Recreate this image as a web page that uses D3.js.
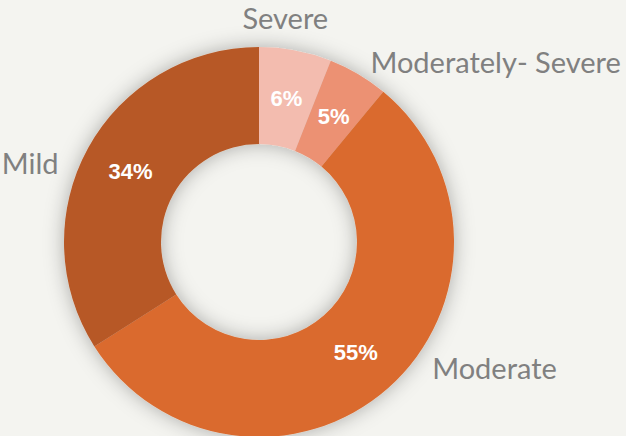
<!DOCTYPE html>
<html>
<head>
<meta charset="utf-8">
<script src="https://cdn.jsdelivr.net/npm/d3@7"></script>
<style>
  html, body { margin: 0; padding: 0; background: #f4f4f0; }
  svg { display: block; }
</style>
</head>
<body>
<svg width="626" height="436"></svg>
<script>
// severity share, clockwise from 12 o'clock
var categories = ['Severe', 'Moderately- Severe', 'Moderate', 'Mild'];
var values = [6, 5, 55, 34];
var colors = ['#f3bcaf', '#ec9173', '#da6a2e', '#b75826'];

// label nudges (px) for the outer category names
var labelNudge = [[-14, -12], [2, 6], [31, -34], [-12, 25]];

var width = 626, height = 436;
var cx = 259, cy = 242;
var outerR = 195, innerR = 98;

var svg = d3.select('svg');

var defs = svg.append('defs');
var f = defs.append('filter')
  .attr('id', 'shadow')
  .attr('x', '-30%').attr('y', '-30%')
  .attr('width', '160%').attr('height', '160%');
f.append('feDropShadow')
  .attr('dx', 0).attr('dy', 0)
  .attr('stdDeviation', 10)
  .attr('flood-color', '#000')
  .attr('flood-opacity', 0.3);

var pie = d3.pie().sort(null).value(function(d) { return d; });
var arcs = pie(values);

var arc = d3.arc().innerRadius(innerR).outerRadius(outerR);
var labelArc = d3.arc().innerRadius(215).outerRadius(215);

var g = svg.append('g').attr('transform', 'translate(' + cx + ',' + cy + ')');

g.append('g')
  .attr('filter', 'url(#shadow)')
  .selectAll('path')
  .data(arcs)
  .enter()
  .append('path')
  .attr('d', arc)
  .attr('fill', function(d, i) { return colors[i]; });

// percent labels
g.selectAll('text.pct')
  .data(arcs)
  .enter()
  .append('text')
  .classed('pct', true)
  .attr('transform', function(d) { return 'translate(' + arc.centroid(d) + ')'; })
  .attr('dy', '0.36em')
  .attr('text-anchor', 'middle')
  .style('font-family', '"Liberation Sans", Arial, sans-serif')
  .style('font-weight', 'bold')
  .style('font-size', '22px')
  .style('fill', '#fff')
  .text(function(d) { return d.value + '%'; });

// category labels
g.selectAll('text.cat')
  .data(arcs)
  .enter()
  .append('text')
  .classed('cat', true)
  .attr('x', function(d, i) { return labelArc.centroid(d)[0] + labelNudge[i][0]; })
  .attr('y', function(d, i) { return labelArc.centroid(d)[1] + labelNudge[i][1]; })
  .attr('dy', '0.35em')
  .attr('text-anchor', function(d) {
    var mid = (d.startAngle + d.endAngle) / 2;
    if (mid < 0.35) return 'middle';
    return mid < Math.PI ? 'start' : 'end';
  })
  .style('font-family', 'Lato, "Open Sans", sans-serif')
  .style('font-size', '29px')
  .style('fill', '#808080')
  .text(function(d, i) { return categories[i]; });
</script>
</body>
</html>
